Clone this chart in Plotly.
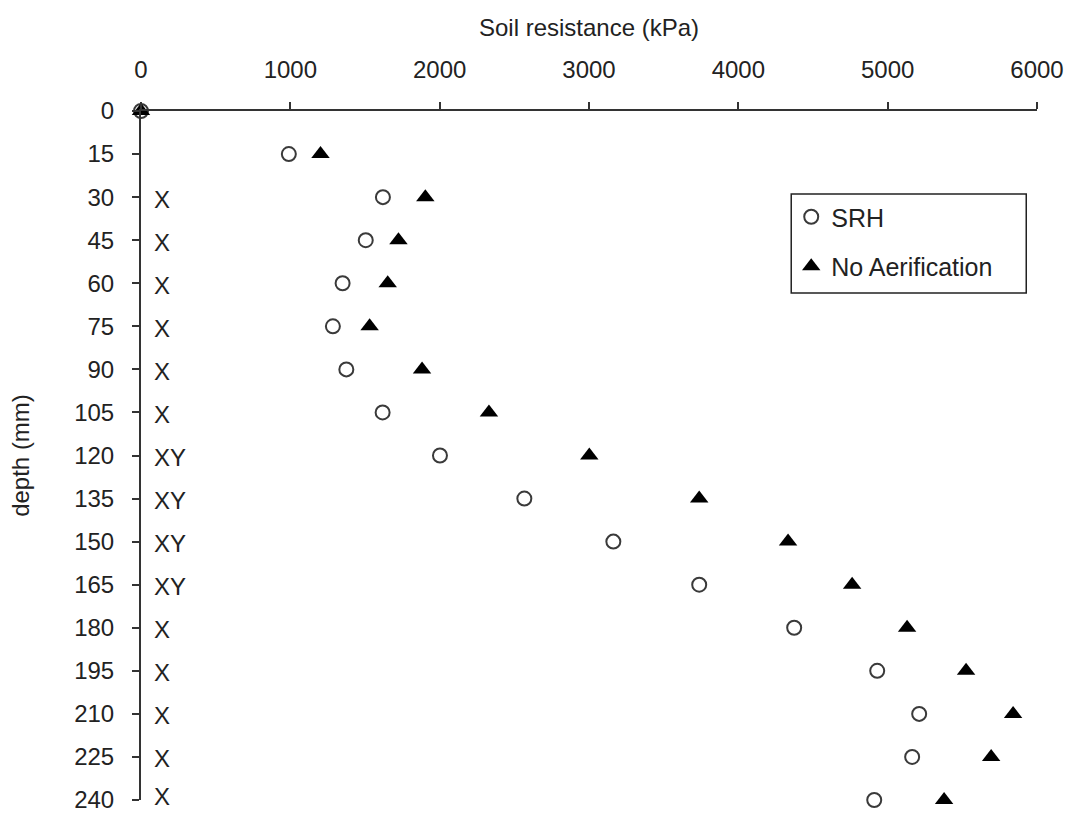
import plotly.graph_objects as go

depth = [0, 15, 30, 45, 60, 75, 90, 105, 120, 135, 150, 165, 180, 195, 210, 225, 240]
srh = [0, 990, 1620, 1505, 1350, 1285, 1375, 1618, 2002, 2567, 3163, 3738, 4374, 4930, 5211, 5164, 4910]
no_aer = [0, 1202, 1904, 1724, 1652, 1531, 1882, 2330, 3002, 3738, 4333, 4762, 5130, 5525, 5840, 5693, 5378]
sig_depths = [30, 45, 60, 75, 90, 105, 120, 135, 150, 165, 180, 195, 210, 225, 240]
sig_labels = ["X", "X", "X", "X", "X", "X", "XY", "XY", "XY", "XY", "X", "X", "X", "X", "X"]
x_ticks = [0, 1000, 2000, 3000, 4000, 5000, 6000]

FONT = "Liberation Sans"
TXT = "#222222"
AX = "#333333"

fig = go.Figure()
fig.add_trace(go.Scatter(
    x=srh, y=depth, mode="markers", name="SRH", cliponaxis=False, legendgroup="a",
    marker=dict(symbol="circle-open", size=14, color="#3a3a3a", line=dict(width=2, color="#3a3a3a")),
))
fig.add_trace(go.Scatter(
    x=no_aer, y=depth, mode="markers", name="No Aerification", cliponaxis=False, legendgroup="b",
    marker=dict(symbol="triangle-up", size=16, color="#000000"),
))

for d, lab in zip(sig_depths, sig_labels):
    fig.add_annotation(x=0, y=d, xref="x", yref="y", text=lab, showarrow=False,
                       xanchor="left", yanchor="middle", xshift=11,
                       yshift=(4 if d == depth[-1] else -2),
                       font=dict(family=FONT, size=24, color=TXT))

# legend frame
fig.add_shape(type="rect", xref="paper", yref="paper",
              x0=0.7257, x1=0.988, y0=0.7359, y1=0.8795,
              line=dict(color="#222222", width=1.5), fillcolor="white", layer="above")

fig.update_layout(
    width=1071, height=815,
    margin=dict(l=141, r=34, t=111, b=15, pad=0, autoexpand=False),
    paper_bgcolor="white", plot_bgcolor="white",
    font=dict(family=FONT, size=24, color=TXT),
    showlegend=True,
    legend=dict(x=0.7257, y=0.8795, xanchor="left", yanchor="top",
                bgcolor="rgba(0,0,0,0)", borderwidth=0,
                font=dict(family=FONT, size=25, color=TXT),
                itemwidth=30, tracegroupgap=14),
    xaxis=dict(side="top", range=[0, 6000], tickvals=x_ticks, showgrid=False, zeroline=False,
               showline=True, linecolor=AX, linewidth=2, ticks="outside", ticklen=7,
               tickcolor=AX, tickwidth=2, ticklabelstandoff=14, ticklabeloverflow="allow",
               automargin=False,
               title=dict(text="Soil resistance (kPa)", standoff=13, font=dict(size=24))),
    yaxis=dict(range=[240, 0], tickvals=depth, showgrid=False, zeroline=False,
               showline=True, linecolor=AX, linewidth=2, ticks="outside", ticklen=7,
               tickcolor=AX, tickwidth=2, ticklabelstandoff=13, ticklabeloverflow="allow",
               automargin=False,
               title=dict(text="depth (mm)", standoff=38, font=dict(size=24))),
)

fig.write_html("out.html", config={"displayModeBar": False},
               post_script="document.body.style.margin='0';document.body.style.overflow='hidden';")
